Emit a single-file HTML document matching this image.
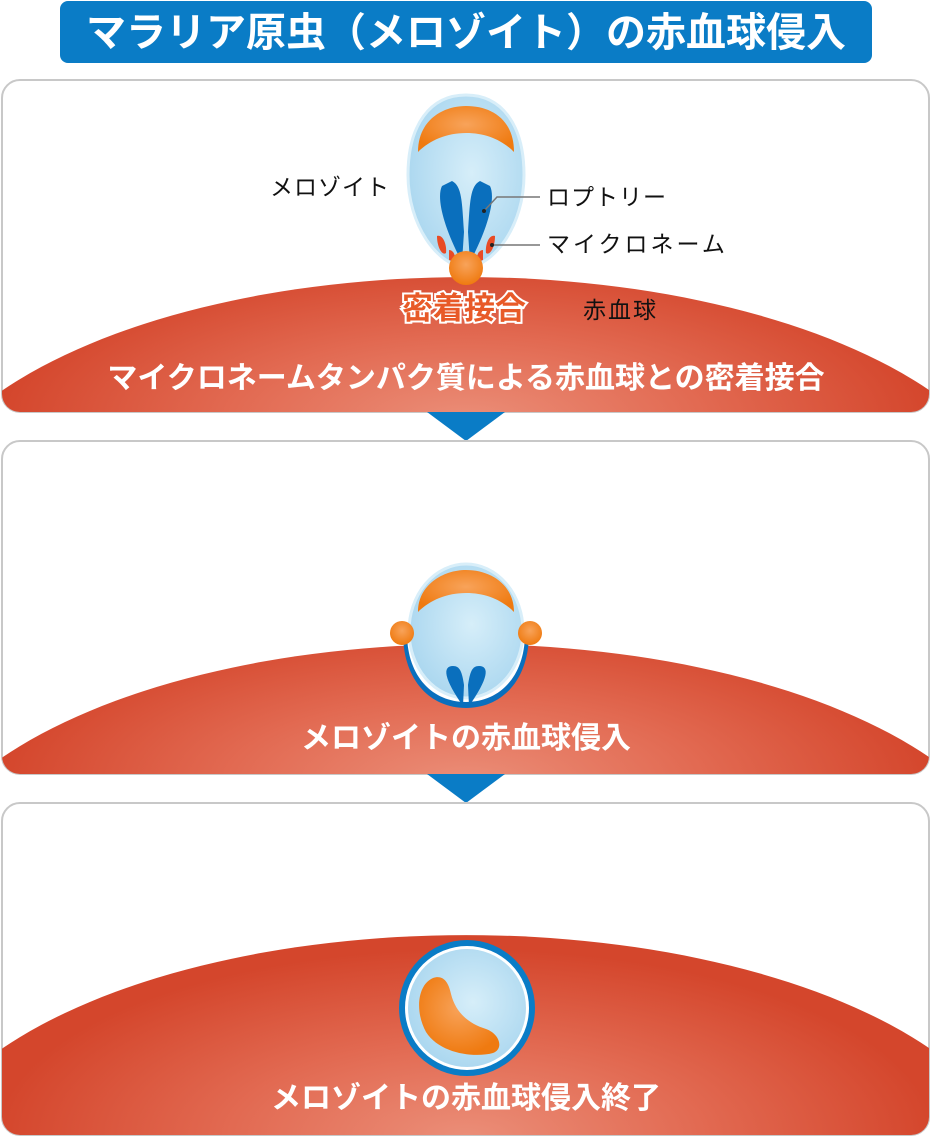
<!DOCTYPE html>
<html><head><meta charset="utf-8"><style>
html,body{margin:0;padding:0;background:#fff;overflow:hidden;width:932px;height:1137px;}
svg{display:block;}
text{font-family:"Liberation Sans","Noto Sans CJK JP",sans-serif;}
</style></head><body>
<svg width="932" height="1137" viewBox="0 0 932 1137" xmlns="http://www.w3.org/2000/svg" overflow="hidden">
<defs>
<radialGradient id="red1" gradientUnits="userSpaceOnUse" cx="466" cy="420" r="470" gradientTransform="translate(466 420) scale(1 0.35) translate(-466 -420)">
<stop offset="0" stop-color="#eb8e78"/><stop offset="0.5" stop-color="#e26a52"/><stop offset="1" stop-color="#d4462c"/>
</radialGradient>
<radialGradient id="red2" gradientUnits="userSpaceOnUse" cx="466" cy="782" r="470" gradientTransform="translate(466 782) scale(1 0.35) translate(-466 -782)">
<stop offset="0" stop-color="#eb8e78"/><stop offset="0.5" stop-color="#e26a52"/><stop offset="1" stop-color="#d4462c"/>
</radialGradient>
<radialGradient id="red3" gradientUnits="userSpaceOnUse" cx="466" cy="1137" r="470" gradientTransform="translate(466 1137) scale(1 0.4) translate(-466 -1137)">
<stop offset="0" stop-color="#eb8e78"/><stop offset="0.5" stop-color="#e26a52"/><stop offset="1" stop-color="#d4462c"/>
</radialGradient>
<radialGradient id="cell" cx="0.55" cy="0.45" r="0.6">
<stop offset="0" stop-color="#d6eef9"/><stop offset="1" stop-color="#a9d6ef"/>
</radialGradient>
<radialGradient id="org" cx="0.5" cy="0.4" r="0.6">
<stop offset="0" stop-color="#f8a35a"/><stop offset="1" stop-color="#ef7a10"/>
</radialGradient>
<clipPath id="c1"><rect x="2" y="80" width="927" height="332" rx="18"/></clipPath>
<clipPath id="c2"><rect x="2" y="441" width="927" height="333" rx="18"/></clipPath>
<clipPath id="c3"><rect x="2" y="803" width="927" height="332" rx="18"/></clipPath>
</defs>

<rect x="60" y="1" width="812" height="62" rx="8" fill="#0a7cc6"/>
<text x="466" y="46" text-anchor="middle" font-size="40" font-weight="bold" fill="#fff">マラリア原虫（メロゾイト）の赤血球侵入</text>

<rect x="2" y="80" width="927" height="332" rx="18" fill="#fff" stroke="#c8c8c8" stroke-width="2"/>
<g clip-path="url(#c1)">
<path d="M0 392 A560 258 0 0 1 932 392 L932 412 L0 412Z" fill="url(#red1)"/>
</g>
<path d="M466 95 C502 95 524 125 524 175 C524 225 495 265 466 268 C437 265 408 225 408 175 C408 125 430 95 466 95Z" fill="url(#cell)" stroke="#d8eef9" stroke-width="3"/>
<path d="M418 152 C418 120 443 106 466 106 C492 106 514 120 514 152 C502 140 486 133 466 133 C447 133 430 140 418 152Z" fill="url(#org)"/>
<path d="M442 186 C436 198 444 228 462 262 L464 232 C462 202 462 186 452 181Z" fill="#0a6fbd"/>
<path d="M490 186 C496 198 488 228 470 262 L468 232 C470 202 470 186 480 181Z" fill="#0a6fbd"/>
<path d="M437 236 c6 -2 10 9 9 17 c-4 3 -9 -6 -9 -17Z" fill="#e84b25"/>
<path d="M495 236 c-6 -2 -10 9 -9 17 c4 3 9 -6 9 -17Z" fill="#e84b25"/>
<path d="M449 250 c5 0 7 7 6 12 l-6 -2Z" fill="#e84b25"/>
<path d="M483 250 c-5 0 -7 7 -6 12 l6 -2Z" fill="#e84b25"/>
<circle cx="466" cy="268" r="17" fill="url(#org)"/>
<polyline points="484,211 497,197 540,197" fill="none" stroke="#777" stroke-width="1.5"/>
<polyline points="492,245 540,245" fill="none" stroke="#777" stroke-width="1.5"/>
<circle cx="484" cy="211" r="2" fill="#222"/><circle cx="492" cy="245" r="2" fill="#222"/>
<text x="270" y="195" font-size="23" fill="#111" letter-spacing="1">メロゾイト</text>
<text x="547" y="205" font-size="23" fill="#111" letter-spacing="1">ロプトリー</text>
<text x="547" y="252" font-size="23" fill="#111" letter-spacing="3">マイクロネーム</text>
<text x="464" y="319" text-anchor="middle" font-size="31" font-weight="bold" fill="#e85a28" stroke="#fff" stroke-width="4" paint-order="stroke">密着接合</text>
<text x="583" y="318" font-size="23" fill="#111" letter-spacing="2">赤血球</text>
<text x="466" y="388" text-anchor="middle" font-size="30" font-weight="bold" fill="#fff">マイクロネームタンパク質による赤血球との密着接合</text>
<polygon points="427,412 505,412 466,441" fill="#0a7cc6"/>

<rect x="2" y="441" width="927" height="333" rx="18" fill="#fff" stroke="#c8c8c8" stroke-width="2"/>
<g clip-path="url(#c2)">
<path d="M0 759 A560 258 0 0 1 932 759 L932 774 L0 774Z" fill="url(#red2)"/>
</g>
<path d="M403 633 C403 680 430 708 466 708 C502 708 529 680 529 633Z" fill="#0a6fbd"/>
<path d="M407 633 C407 676 432 702 466 702 C500 702 525 676 525 633Z" fill="#fff"/>
<ellipse cx="466" cy="631" rx="57" ry="67" fill="url(#cell)" stroke="#d8eef9" stroke-width="3"/>
<path d="M418 612 C418 585 443 570 466 570 C491 570 514 585 514 612 C502 600 486 593 466 593 C447 593 430 600 418 612Z" fill="url(#org)"/>
<path d="M453 666 c-11 0 -9 13 10 40 l1 -21 c-2 -13 -4 -19 -11 -19Z" fill="#0a6fbd"/>
<path d="M479 666 c11 0 9 13 -10 40 l-1 -21 c2 -13 4 -19 11 -19Z" fill="#0a6fbd"/>
<circle cx="402" cy="633" r="12" fill="url(#org)"/>
<circle cx="530" cy="633" r="12" fill="url(#org)"/>
<text x="466" y="748" text-anchor="middle" font-size="30" font-weight="bold" fill="#fff">メロゾイトの赤血球侵入</text>
<polygon points="427,774 505,774 466,803" fill="#0a7cc6"/>

<rect x="2" y="803" width="927" height="332" rx="18" fill="#fff" stroke="#c8c8c8" stroke-width="2"/>
<g clip-path="url(#c3)">
<path d="M0 1050 A560 258 0 0 1 932 1050 L932 1135 L0 1135Z" fill="url(#red3)"/>
</g>
<circle cx="467" cy="1008" r="68" fill="#0a7cc6"/>
<circle cx="467" cy="1008" r="62" fill="#fff"/>
<circle cx="467" cy="1008" r="59" fill="url(#cell)"/>
<path d="M433 978 C417 985 415 1012 426 1032 C440 1054 475 1058 493 1053 C504 1049 500 1034 486 1029 C470 1024 456 1014 451 994 C448 980 442 975 433 978Z" fill="url(#org)"/>
<text x="466" y="1108" text-anchor="middle" font-size="30" font-weight="bold" fill="#fff">メロゾイトの赤血球侵入終了</text>
</svg>
</body></html>
